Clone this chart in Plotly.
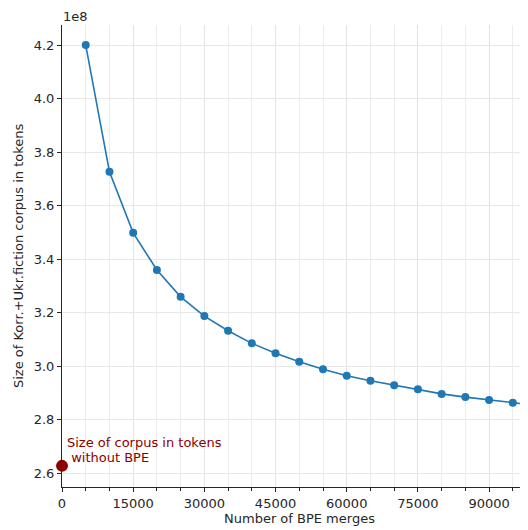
import plotly.graph_objects as go

# Data (token counts in units of 1e8)
merges = [5000, 10000, 15000, 20000, 25000, 30000, 35000, 40000, 45000, 50000,
          55000, 60000, 65000, 70000, 75000, 80000, 85000, 90000, 95000, 100000]
tokens_1e8 = [4.200, 3.726, 3.498, 3.359, 3.259, 3.187, 3.132, 3.085, 3.048, 3.016,
              2.988, 2.964, 2.945, 2.928, 2.913, 2.896, 2.884, 2.873, 2.863, 2.853]
no_bpe_x = [0]
no_bpe_tokens_1e8 = [2.627]
note_lines = ["Size of corpus in tokens", "&nbsp;without BPE"]

x_ticks = [0, 15000, 30000, 45000, 60000, 75000, 90000]
x_ticklabels = ["0", "15000", "30000", "45000", "60000", "75000", "90000"]
y_ticks = [2.6, 2.8, 3.0, 3.2, 3.4, 3.6, 3.8, 4.0, 4.2]
y_ticklabels = ["2.6", "2.8", "3.0", "3.2", "3.4", "3.6", "3.8", "4.0", "4.2"]

FONT = "DejaVu Sans"
TXT = "#262626"
OFF = 8  # page body margin offset
W, H = 528 - OFF, 530 - OFF
L, R, T, B = 62 - OFF, 0, 25 - OFF, 43
PW, PH = W - L - R, H - T - B

fig = go.Figure()
fig.add_trace(go.Scatter(
    x=merges, y=tokens_1e8, mode="lines+markers",
    line=dict(color="#1f77b4", width=1.6),
    marker=dict(color="#1f77b4", size=8),
    showlegend=False, cliponaxis=True,
))
fig.add_trace(go.Scatter(
    x=no_bpe_x, y=no_bpe_tokens_1e8, mode="markers",
    marker=dict(color="#8b0000", size=12),
    showlegend=False, cliponaxis=False,
))

for i, line in enumerate(note_lines):
    fig.add_annotation(
        x=no_bpe_x[0], y=no_bpe_tokens_1e8[0], xref="x", yref="y",
        text=line, showarrow=False,
        xanchor="left", yanchor="middle", align="left", xshift=3,
        yshift=23 - 15 * i,
        font=dict(family=FONT, size=13, color="#8b0000"),
    )
fig.add_annotation(
    x=0, y=1, xref="paper", yref="paper", text="1e8", showarrow=False,
    xanchor="left", yanchor="bottom", yshift=-1, xshift=-1,
    font=dict(family=FONT, size=13, color=TXT),
)
fig.add_annotation(
    x=(299 - 62) / PW, y=0, xref="paper", yref="paper", text="Number of BPE merges",
    showarrow=False, font=dict(family=FONT, size=13, color=TXT),
    yanchor="top", yshift=-22,
)
fig.add_annotation(
    x=(18 - 62) / PW, y=0.5, xref="paper", yref="paper",
    text="Size of Korr.+Ukr.fiction corpus in tokens", textangle=-90,
    showarrow=False, font=dict(family=FONT, size=13, color=TXT),
    xanchor="center", yanchor="middle",
)

fig.update_layout(
    width=W, height=H,
    margin=dict(l=L, r=R, t=T, b=B, autoexpand=False),
    paper_bgcolor="white", plot_bgcolor="white",
    font=dict(family=FONT, size=13, color=TXT),
    xaxis=dict(
        range=[0, 98200], tickvals=x_ticks, ticktext=x_ticklabels,
        ticks="outside", ticklen=4, automargin=False,
        tickcolor=TXT, showline=True, linecolor=TXT, linewidth=1,
        showgrid=True, gridcolor="#e3e3e3", gridwidth=1, zeroline=False,
        minor=dict(dtick=5000, tick0=0, ticks="outside", ticklen=2.5,
                   tickcolor=TXT, showgrid=True, gridcolor="#ececec", gridwidth=1),
    ),
    yaxis=dict(
        range=[2.548, 4.275], tickvals=y_ticks, ticktext=y_ticklabels,
        ticks="outside", ticklen=4, tickcolor=TXT, showline=True, automargin=False,
        linecolor=TXT, linewidth=1, showgrid=True, gridcolor="#e8e8e8",
        gridwidth=1, zeroline=False,
    ),
)

fig.write_html("out.html")
